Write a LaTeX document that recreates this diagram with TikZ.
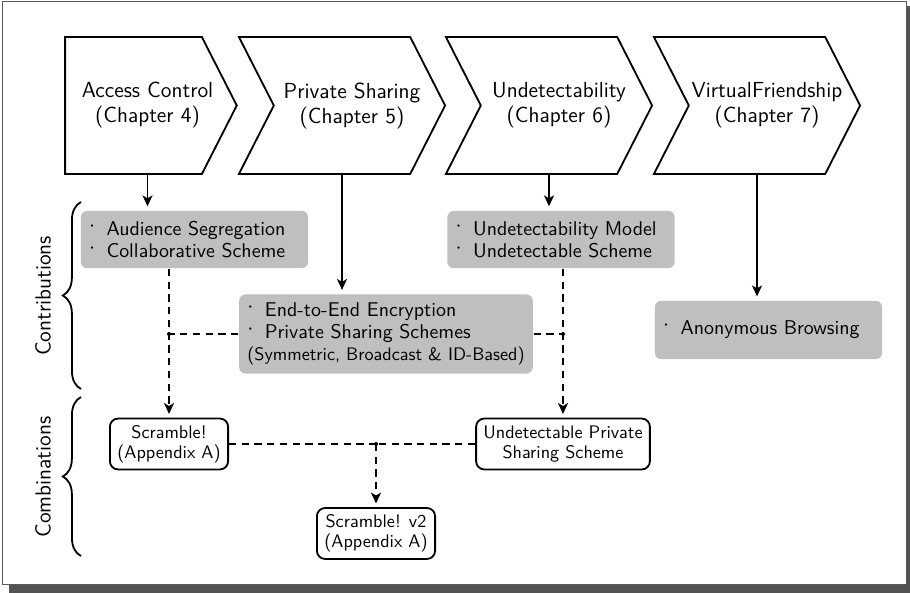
\documentclass[11pt,tikz,border=0pt]{standalone}
\usetikzlibrary{shapes.symbols,decorations.pathreplacing,arrows.meta}
\newcommand{\bul}{\raisebox{2.2pt}{\large$\cdot$}\hspace{6.3pt}}

\begin{document}
\begin{tikzpicture}[x=0.55pt,y=-0.55pt,font=\sffamily,line width=1pt,>={Stealth[length=6pt,width=5.5pt,inset=1.6pt]},
  chapter/.style={signal,draw,signal to=east,signal pointer angle=126,minimum height=75.35pt,inner sep=0pt},
  chaptext/.style={align=center,font=\sffamily\fontsize{12}{13.8}\selectfont},
  contrib/.style={fill=black!25,rounded corners=3.5pt,inner xsep=4.5pt,inner ysep=4.5pt,font=\sffamily\fontsize{10.95}{12.2}\selectfont},
  combo/.style={draw,rounded corners=4.5pt,align=center,inner xsep=4pt,minimum width=65pt,minimum height=28pt,font=\sffamily\fontsize{10}{11}\selectfont},
  side/.style={rotate=90,font=\sffamily\large}]
\useasboundingbox (0,0) rectangle (910,593);
\fill[black!68] (9,6) rectangle (916,600);
\draw[black!65,thin,fill=white] (2.5,1) rectangle (906.5,584.5);

\node[chapter,minimum width=94.4pt,label={[chaptext,xshift=7.7pt]center:Access Control\\(Chapter 4)}] (n00) at (133.5,105.5) {};
\node[chapter,signal from=west,minimum width=113.4pt,label={[chaptext,xshift=5.5pt]center:Private Sharing\\(Chapter 5)}] (n01) at (342,105.5) {};
\node[chapter,signal from=west,minimum width=113.4pt,label={[chaptext,xshift=5.5pt]center:Undetectability\\(Chapter 6)}] (n02) at (549,105.5) {};
\node[chapter,signal from=west,minimum width=113.4pt,label={[chaptext,xshift=5.5pt]center:VirtualFriendship\\(Chapter 7)}] (n03) at (757,105.5) {};

\node[contrib,text width=116pt,minimum height=31.5pt] (n10) at (194.5,239.5) {\bul Audience Segregation\\\bul Collaborative Scheme};
\node[contrib,align=left] (n11) at (386,334) {\bul End-to-End Encryption\\\bul Private Sharing Schemes\\{\small(Symmetric, Broadcast \& ID-Based)}};
\node[contrib,text width=116pt,minimum height=31.5pt] (n12) at (561,239.5) {\bul Undetectability Model\\\bul Undetectable Scheme};
\node[contrib,text width=116pt,minimum height=32pt] (n13) at (768.5,330) {\bul Anonymous Browsing};

\node[combo] (n20) at (169,444) {Scramble!\\(Appendix A)};
\node[combo] (n21) at (563,444) {Undetectable Private\\Sharing Scheme};
\node[combo] (n30) at (376,533.5) {Scramble! v2\\(Appendix A)};

\coordinate (j0) at (n20 |- n11);
\coordinate (j1) at (n21 |- n11);
\coordinate (j2) at (n30 |- n20);

\draw[->,shorten >=2pt] ([xshift=7.7pt]n00.south) -- ([xshift=7.7pt]n00 |- n10.north);
\draw[->,shorten >=2pt] (n01) -- (n01 |- n11.north);
\draw[->,shorten >=2pt] (n02) -- (n02 |- n12.north);
\draw[->,shorten >=2pt] (n03) -- (n03 |- n13.north);

\draw[dash pattern=on 4pt off 3pt,->,shorten >=2pt] (n10.south -| n20) -- (n20);
\draw[dash pattern=on 4pt off 3pt] (n11) -- (j0);
\draw[dash pattern=on 4pt off 3pt,->,shorten >=2pt] (n12.south -| n21) -- (n21);
\draw[dash pattern=on 4pt off 3pt] (n11) -- (j1);
\draw[dash pattern=on 4pt off 3pt] (n20) -- (j2);
\draw[dash pattern=on 4pt off 3pt] (n21) -- (j2);
\draw[dash pattern=on 4pt off 3pt,->,shorten >=2pt] (j2) -- (n30);
\foreach \j in {j0,j1,j2}
  \fill (\j) circle (1.1pt);

\draw[decorate,decoration={brace,amplitude=10pt}] (81,389) -- (81,202);
\draw[decorate,decoration={brace,amplitude=10pt}] (81,556) -- (81,397);
\node[side] (s0) at (43,296) {Contributions};
\node[side] (s1) at (43,477) {Combinations};
\end{tikzpicture}
\end{document}
